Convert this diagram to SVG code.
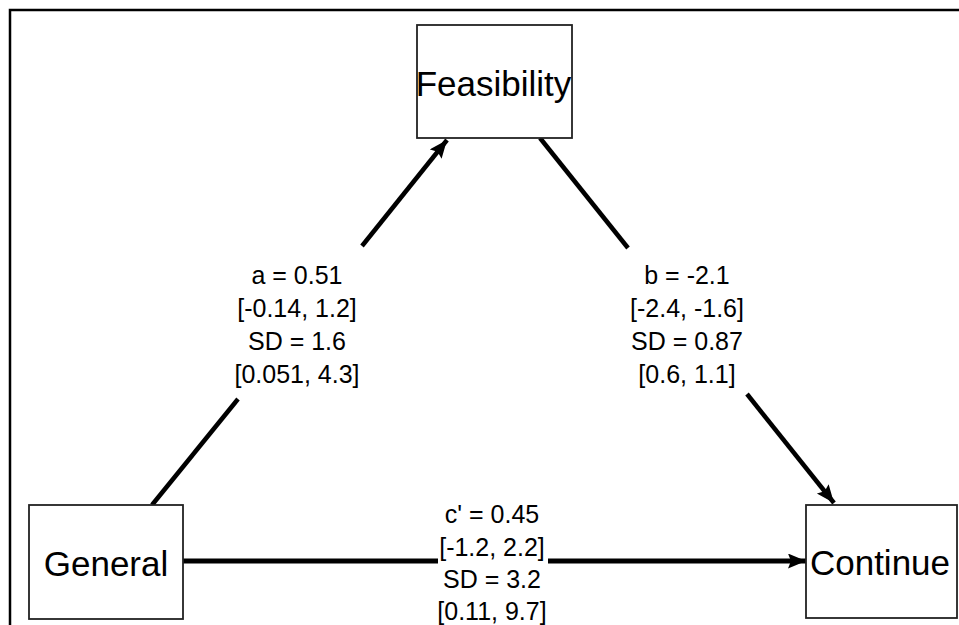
<svg xmlns="http://www.w3.org/2000/svg" width="959" height="625" viewBox="0 0 959 625">
  <style>
    .node rect { fill: #ffffff; stroke: #222222; stroke-width: 1.8; }
    .node text { font-family: "Liberation Sans", Arial, sans-serif; font-size: 35px; fill: #000000; text-anchor: middle; }
    .edge { stroke: #000000; stroke-width: 4.5; fill: none; stroke-linecap: butt; }
    .edge.direct { stroke-width: 5; }
    .label { font-family: "Liberation Sans", Arial, sans-serif; font-size: 25px; fill: #000000; text-anchor: middle; }
    .frame { stroke: #000000; stroke-width: 2.5; fill: none; }
  </style>
  <defs>
    <marker id="head" markerUnits="userSpaceOnUse" markerWidth="20" markerHeight="16" refX="18" refY="7.5" orient="auto">
      <path d="M0,0 L18,7.5 L0,15 L3,7.5 z" fill="#000000"/>
    </marker>
  </defs>

  <rect width="959" height="625" fill="#ffffff"/>
  <!-- plot frame (top and left edges) -->
  <path class="frame" d="M10,625 L10,10 L959,10"/>

  <g id="connectors">
    <!-- a path: General -> Feasibility -->
    <line class="edge" x1="152" y1="505" x2="238" y2="399"/>
    <line class="edge" x1="362" y1="246" x2="447" y2="140" marker-end="url(#head)"/>
    <!-- b path: Feasibility -> Continue -->
    <line class="edge" x1="540" y1="138" x2="628" y2="248"/>
    <line class="edge" x1="747" y1="394" x2="834" y2="503" marker-end="url(#head)"/>
    <!-- c' path: General -> Continue -->
    <line class="edge direct" x1="183" y1="561" x2="438" y2="561"/>
    <line class="edge direct" x1="548" y1="561" x2="806" y2="561" marker-end="url(#head)"/>
  </g>

  <g id="labels">
    <text class="label" x="297" y="284">a = 0.51</text>
    <text class="label" x="297" y="317">[-0.14, 1.2]</text>
    <text class="label" x="297" y="350">SD = 1.6</text>
    <text class="label" x="297" y="383">[0.051, 4.3]</text>

    <text class="label" x="687" y="284">b = -2.1</text>
    <text class="label" x="687" y="317">[-2.4, -1.6]</text>
    <text class="label" x="687" y="350">SD = 0.87</text>
    <text class="label" x="687" y="383">[0.6, 1.1]</text>

    <text class="label" x="492" y="523">c' = 0.45</text>
    <text class="label" x="492" y="556">[-1.2, 2.2]</text>
    <text class="label" x="492" y="588">SD = 3.2</text>
    <text class="label" x="492" y="620">[0.11, 9.7]</text>
  </g>

  <g id="node-feasibility" class="node">
    <rect x="417" y="25" width="155" height="113"/>
    <text x="493.5" y="96">Feasibility</text>
  </g>
  <g id="node-general" class="node">
    <rect x="29" y="505" width="154" height="114"/>
    <text x="106" y="576">General</text>
  </g>
  <g id="node-continue" class="node">
    <rect x="806" y="505" width="151" height="113"/>
    <text x="880" y="575">Continue</text>
  </g>
</svg>
